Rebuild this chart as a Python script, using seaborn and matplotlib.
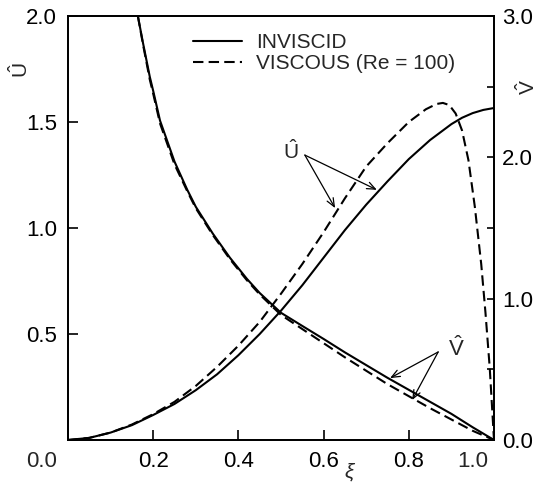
import numpy as np
import pandas as pd
import matplotlib
matplotlib.use("Agg")
import matplotlib.pyplot as plt
import seaborn as sns

# ── Values ──
xi_u = [0.0, 0.05, 0.1, 0.15, 0.2, 0.25, 0.3, 0.35, 0.4, 0.45, 0.5,
        0.55, 0.6, 0.65, 0.7, 0.75, 0.8, 0.85, 0.9, 0.925, 0.95, 0.975, 1.0]
u_inviscid = [0.0, 0.01, 0.035, 0.07, 0.118, 0.17, 0.235, 0.31, 0.40, 0.50, 0.61,
              0.73, 0.86, 0.99, 1.11, 1.22, 1.325, 1.415, 1.49, 1.52, 1.542, 1.557, 1.566]

xi_u_visc = [0.0, 0.05, 0.1, 0.15, 0.2, 0.25, 0.3, 0.35, 0.4, 0.45, 0.5,
             0.55, 0.6, 0.65, 0.7, 0.75, 0.8, 0.84, 0.865, 0.88, 0.895, 0.91,
             0.925, 0.94, 0.955, 0.97, 0.98, 0.99, 1.0]
u_viscous = [0.0, 0.01, 0.035, 0.073, 0.122, 0.18, 0.255, 0.345, 0.445, 0.557, 0.69,
             0.83, 0.98, 1.14, 1.29, 1.40, 1.50, 1.56, 1.585, 1.59, 1.58, 1.54,
             1.46, 1.32, 1.10, 0.83, 0.60, 0.34, 0.0]

xi_v = [0.164, 0.176, 0.192, 0.2, 0.216, 0.25, 0.28, 0.3, 0.34, 0.38, 0.42,
        0.45, 0.5, 0.55, 0.6, 0.65, 0.7, 0.75, 0.8, 0.85, 0.9, 0.95, 1.0]
v_inviscid = [3.0, 2.81, 2.57, 2.47, 2.26, 1.97, 1.77, 1.65, 1.46, 1.29, 1.14,
              1.04, 0.90, 0.807, 0.715, 0.62, 0.53, 0.44, 0.355, 0.27, 0.185, 0.09, 0.0]
v_viscous = [3.0, 2.80, 2.55, 2.45, 2.24, 1.95, 1.76, 1.64, 1.45, 1.28, 1.13,
             1.03, 0.885, 0.785, 0.685, 0.585, 0.49, 0.395, 0.31, 0.225, 0.145, 0.065, 0.0]

x_ticks = [0.0, 0.2, 0.4, 0.6, 0.8, 1.0]
x_ticklabels = ["", "0.2", "0.4", "0.6", "0.8", ""]
u_ticks = [0.0, 0.5, 1.0, 1.5, 2.0]
u_ticklabels = ["", "0.5", "1.0", "1.5", "2.0"]
v_ticks = [0.0, 0.5, 1.0, 1.5, 2.0, 2.5, 3.0]
v_ticklabels = ["0.0", "", "1.0", "", "2.0", "", "3.0"]

sns.set_style("ticks")
plt.rcParams["font.family"] = ["Liberation Sans", "DejaVu Sans"]
plt.rcParams["mathtext.fontset"] = "custom"
plt.rcParams["mathtext.rm"] = "Liberation Sans"
plt.rcParams["mathtext.it"] = "Liberation Sans:italic"
plt.rcParams["axes.edgecolor"] = "black"
plt.rcParams["axes.linewidth"] = 1.3

fig = plt.figure(figsize=(5.46, 4.88), dpi=100)
ax = fig.add_axes([68 / 546, 48 / 488, 426 / 546, 424 / 488])
ax2 = ax.twinx()

dash = (0, (5, 2.5))

df_u_inv = pd.DataFrame({"xi": xi_u, "val": u_inviscid})
df_u_vis = pd.DataFrame({"xi": xi_u_visc, "val": u_viscous})
df_v_inv = pd.DataFrame({"xi": xi_v, "val": v_inviscid})
df_v_vis = pd.DataFrame({"xi": xi_v, "val": v_viscous})

sns.lineplot(data=df_u_inv, x="xi", y="val", ax=ax, color="black", lw=1.5,
             label="INVISCID")
sns.lineplot(data=df_u_vis, x="xi", y="val", ax=ax, color="black", lw=1.5,
             linestyle=dash, label="VISCOUS (Re = 100)")
sns.lineplot(data=df_v_inv, x="xi", y="val", ax=ax2, color="black", lw=1.5,
             legend=False)
sns.lineplot(data=df_v_vis, x="xi", y="val", ax=ax2, color="black", lw=1.5,
             linestyle=dash, legend=False)

# ── Axes ──
ax.set_xlim(0, 1)
ax.set_ylim(0, 2.0)
ax2.set_ylim(0, 3.0)
ax.set_xticks(x_ticks)
ax.set_xticklabels(x_ticklabels)
ax.set_yticks(u_ticks)
ax.set_yticklabels(u_ticklabels)
ax2.set_yticks(v_ticks)
ax2.set_yticklabels(v_ticklabels)

ax.tick_params(direction="in", length=7, width=1.2, labelsize=16, pad=8,
               colors="black")
ax2.tick_params(direction="in", length=5, width=1.2, labelsize=16, pad=6,
                colors="black")

# corner labels sit off the tick positions in the original
ax.text(-0.061, -0.026, "0.0", transform=ax.transAxes, ha="center",
        va="top", fontsize=16)
ax.text(0.951, -0.026, "1.0", transform=ax.transAxes, ha="center",
        va="top", fontsize=16)

ax.set_xlabel(r"$\xi$", fontsize=15)
ax.xaxis.set_label_coords(0.662, -0.05)
ax.set_ylabel(r"$\hat{\mathrm{U}}$", fontsize=15, rotation=90)
ax.yaxis.set_label_coords(-0.085, 0.873)
ax2.set_ylabel(r"$\hat{\mathrm{V}}$", fontsize=15, rotation=90)
ax2.yaxis.set_label_coords(1.05, 0.833)

# ── Legend ──
ax.legend(loc="upper left", bbox_to_anchor=(0.293, 0.96), frameon=False,
          fontsize=15, handlelength=2.35, handletextpad=0.7,
          labelspacing=0.12, borderpad=0, borderaxespad=0)

# ── Annotations ──
arrow = dict(arrowstyle="->,head_length=0.6,head_width=0.25", color="black",
             lw=0.9, shrinkA=0, shrinkB=0)
ax.text(0.523, 1.36, r"$\hat{\mathrm{U}}$", fontsize=15, ha="center", va="center")
ax.annotate("", xy=(0.627, 1.094), xytext=(0.556, 1.344), arrowprops=arrow)
ax.annotate("", xy=(0.725, 1.18), xytext=(0.556, 1.344), arrowprops=arrow)

ax2.text(0.911, 0.65, r"$\hat{\mathrm{V}}$", fontsize=16, ha="center", va="center")
ax2.annotate("", xy=(0.756, 0.438), xytext=(0.869, 0.623), arrowprops=arrow)
ax2.annotate("", xy=(0.808, 0.283), xytext=(0.869, 0.623), arrowprops=arrow)

fig.savefig("out.png", dpi=100)
plt.close(fig)
